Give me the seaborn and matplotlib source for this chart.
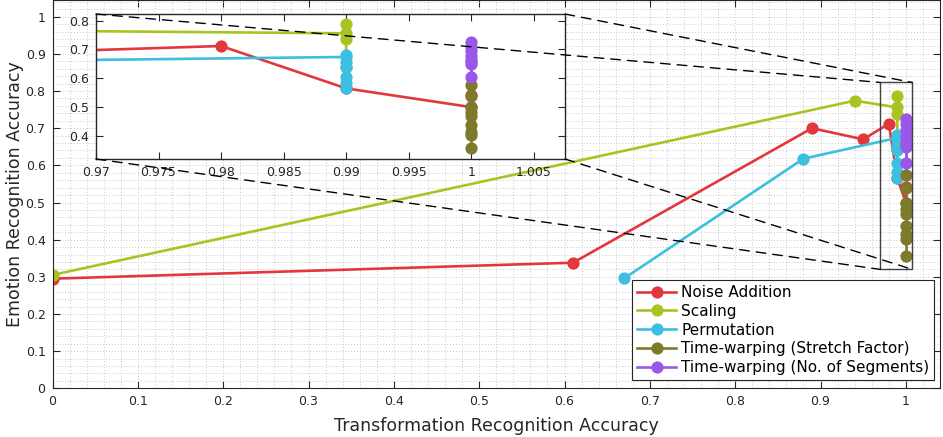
import matplotlib
matplotlib.use("Agg")
import matplotlib.pyplot as plt
from matplotlib.patches import Rectangle, ConnectionPatch
from matplotlib.ticker import MultipleLocator
import seaborn as sns

# Transformation recognition accuracy (x) vs emotion recognition accuracy (y)
noise_x = [0.0, 0.61, 0.89, 0.95, 0.98, 0.99, 1.0, 1.0]
noise_y = [0.295, 0.338, 0.700, 0.670, 0.712, 0.565, 0.500, 0.542]

scaling_x = [0.0, 0.94, 0.99, 0.99, 0.99, 0.99]
scaling_y = [0.305, 0.774, 0.756, 0.787, 0.738, 0.640]

perm_x = [0.67, 0.88, 0.99, 0.99, 0.99, 0.99, 0.99, 0.99, 0.99]
perm_y = [0.296, 0.618, 0.674, 0.682, 0.658, 0.640, 0.606, 0.583, 0.565]

stretch_x = [1.0] * 10
stretch_y = [0.655, 0.575, 0.540, 0.500, 0.482, 0.470, 0.438, 0.415, 0.402, 0.357]

segments_x = [1.0] * 7
segments_y = [0.725, 0.710, 0.694, 0.678, 0.662, 0.650, 0.606]

series = [
    ("Noise Addition", noise_x, noise_y, "#e3373c"),
    ("Scaling", scaling_x, scaling_y, "#a8c422"),
    ("Permutation", perm_x, perm_y, "#3cbfe0"),
    ("Time-warping (Stretch Factor)", stretch_x, stretch_y, "#7e7a2b"),
    ("Time-warping (No. of Segments)", segments_x, segments_y, "#9a57ea"),
]

x_ticks = [0, 0.1, 0.2, 0.3, 0.4, 0.5, 0.6, 0.7, 0.8, 0.9, 1]
y_ticks = [0, 0.1, 0.2, 0.3, 0.4, 0.5, 0.6, 0.7, 0.8, 0.9, 1]
zoom_x_ticks = [0.97, 0.975, 0.98, 0.985, 0.99, 0.995, 1.0, 1.005]
zoom_y_ticks = [0.4, 0.5, 0.6, 0.7, 0.8]
zoom_xlim = (0.97, 1.0075)
zoom_ylim = (0.32, 0.823)

text_color = "#262626"
plt.rcParams["font.family"] = ["DejaVu Sans"]

W, H = 943, 437
fig = plt.figure(figsize=(W / 100, H / 100), dpi=100)
ax = fig.add_axes([52.5 / W, 1 - 388.3 / H, 887.5 / W, 388.3 / H])


def fmt(v):
    s = f"{v:.3f}".rstrip("0").rstrip(".")
    return s


def draw_series(a, with_legend):
    for name, xs, ys, col in series:
        sns.lineplot(x=xs, y=ys, ax=a, color=col, marker="o", markersize=8.8,
                     markeredgewidth=0, linewidth=1.9, sort=False,
                     estimator=None, label=name if with_legend else None,
                     legend=with_legend)


draw_series(ax, True)
ax.set_xlim(0, 1.04)
ax.set_ylim(0, 1.045)
ax.set_xticks(x_ticks)
ax.set_xticklabels([fmt(v) for v in x_ticks])
ax.set_yticks(y_ticks)
ax.set_yticklabels([fmt(v) for v in y_ticks])
ax.xaxis.set_minor_locator(MultipleLocator(0.02))
ax.yaxis.set_minor_locator(MultipleLocator(0.02))
ax.grid(which="both", linestyle=(0, (1, 2)), color="#c8c8c8", linewidth=0.7)
ax.set_axisbelow(True)
ax.tick_params(which="major", direction="in", length=5, width=0.8,
               top=True, right=True, labelsize=9, colors=text_color,
               pad=5)
ax.tick_params(which="minor", length=0)
for sp in ax.spines.values():
    sp.set_color(text_color)
    sp.set_linewidth(0.8)
ax.set_xlabel("Transformation Recognition Accuracy", fontsize=12.5,
              color=text_color, labelpad=6)
ax.set_ylabel("Emotion Recognition Accuracy", fontsize=12.5,
              color=text_color, labelpad=1)

leg = ax.legend(loc="lower right", bbox_to_anchor=(0.993, 0.022),
                fontsize=11, frameon=True, fancybox=False, framealpha=1,
                edgecolor=text_color, handlelength=2.6, handletextpad=0.3,
                labelspacing=0.25, borderpad=0.3, borderaxespad=0)
leg.get_frame().set_linewidth(0.8)

# zoom rectangle on the main axes
ax.add_patch(Rectangle((zoom_xlim[0], zoom_ylim[0]),
                       zoom_xlim[1] - zoom_xlim[0], zoom_ylim[1] - zoom_ylim[0],
                       fill=False, edgecolor="#404040", linewidth=1.0,
                       zorder=6))

# inset with the magnified cluster
axin = fig.add_axes([96 / W, 1 - 159 / H, 469 / W, 145 / H])
axin.set_facecolor("white")
draw_series(axin, False)
axin.set_xlim(*zoom_xlim)
axin.set_ylim(*zoom_ylim)
axin.set_xticks(zoom_x_ticks)
axin.set_xticklabels([fmt(v) for v in zoom_x_ticks])
axin.set_yticks(zoom_y_ticks)
axin.set_yticklabels([fmt(v) for v in zoom_y_ticks])
axin.tick_params(direction="in", length=5, width=0.8, top=True, right=True,
                 labelsize=9, colors=text_color, pad=5)
axin.set_xlabel("")
axin.set_ylabel("")
for sp in axin.spines.values():
    sp.set_color(text_color)
    sp.set_linewidth(1.0)

# dashed connectors from inset corners to rectangle corners
corners = [((0, 1), (zoom_xlim[0], zoom_ylim[1])),
           ((1, 1), (zoom_xlim[1], zoom_ylim[1])),
           ((0, 0), (zoom_xlim[0], zoom_ylim[0])),
           ((1, 0), (zoom_xlim[1], zoom_ylim[0]))]
for a_pt, b_pt in corners:
    con = ConnectionPatch(xyA=a_pt, coordsA=axin.transAxes, xyB=b_pt,
                          coordsB=ax.transData, color="black",
                          linestyle=(0, (7, 5)), linewidth=1.0, zorder=20)
    fig.add_artist(con)

fig.savefig("out.png", dpi=100)
